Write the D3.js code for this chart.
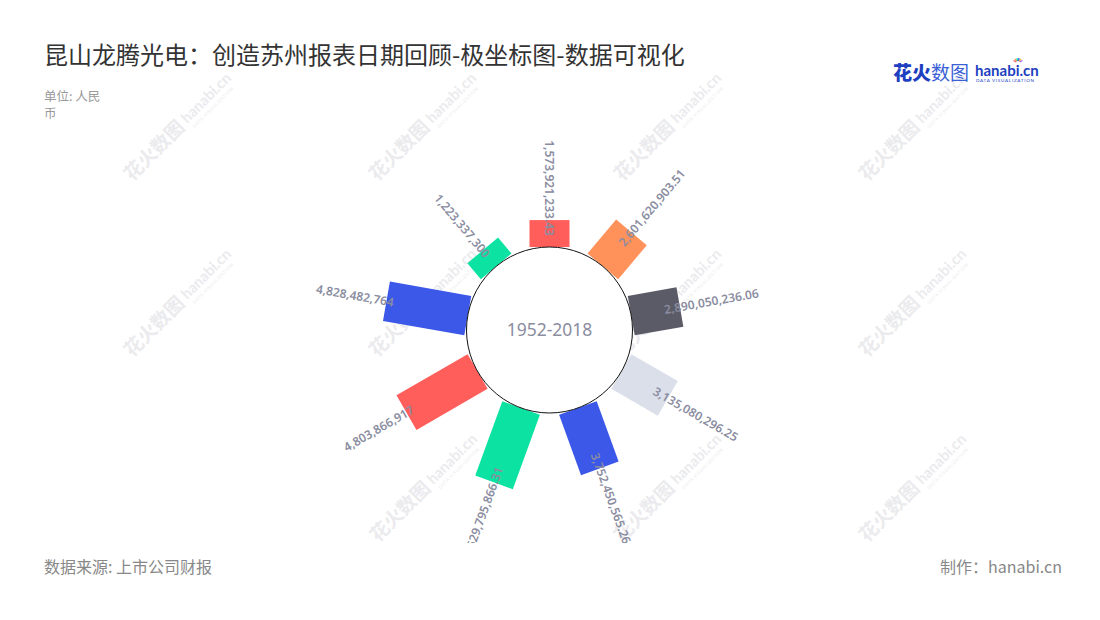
<!DOCTYPE html>
<html>
<head>
<meta charset="utf-8">
<script src="https://cdn.jsdelivr.net/npm/d3@7"></script>
<style>
  html,body{margin:0;padding:0;background:#fff;}
  svg{display:block;font-family:"Noto Sans CJK SC","Noto Sans",sans-serif;}
</style>
</head>
<body>
<svg id="chart" width="1100" height="620"></svg>
<script>
// ---- data ----
const categories = ["第1期","第2期","第3期","第4期","第5期","第6期","第7期","第8期","第9期"];
const values = [1573921233.43, 2601620903.51, 2890050236.06, 3135080296.25, 3752450565.26, 4629795866.31, 4803866917, 4828482764, 1223337300];
const labels = ["1,573,921,233.43","2,601,620,903.51","2,890,050,236.06","3,135,080,296.25","3,752,450,565.26","4,629,795,866.31","4,803,866,917","4,828,482,764","1,223,337,300"];
const colors = ["#ff5e5b","#ff915a","#5a5b66","#dbdfea","#3b58e9","#0ce3a2","#ff5e5b","#3b58e9","#0ce3a2"];
const radialTicks = [0, 5e9];
const title = "昆山龙腾光电：创造苏州报表日期回顾-极坐标图-数据可视化";
const unitLines = ["单位: 人民","币"];
const centerText = "1952-2018";
const sourceText = "数据来源: 上市公司财报";
const makerText = "制作：hanabi.cn";

const svg = d3.select("#chart");
const W = 1100, H = 620;
const cx = 549.5, cy = 330, innerR = 83;

// ---- watermarks ----
const wmPositions = [
  [132,182],[377,182],[622,182],[867,182],
  [132,358],[377,358],[622,358],[867,358],
  [378,543],[622,543],[867,543]
];
const wm = svg.append("g").attr("class","watermarks");
wmPositions.forEach(([x,y]) => {
  const g = wm.append("g").attr("transform",`translate(${x},${y}) rotate(-45)`).attr("fill","#ebebee");
  g.append("text").attr("x",0).attr("y",0).attr("font-size",19).attr("font-weight",700).text("花火数图");
  g.append("text").attr("x",80).attr("y",-2).attr("font-size",15).attr("font-weight",700)
    .attr("font-family","Lato, sans-serif").text("hanabi.cn");
  g.append("text").attr("x",82).attr("y",6).attr("font-size",4.5).attr("letter-spacing",0.6)
    .attr("font-family","Lato, sans-serif").text("DATA VISUALIZATION");
});

// ---- title & notes ----
svg.append("text").attr("x",44).attr("y",64).attr("font-size",24).attr("fill","#333").text(title);
svg.append("g").selectAll("text").data(unitLines).join("text")
  .attr("x",44).attr("y",(d,i)=>101+i*17).attr("font-size",12.5).attr("fill","#999").text(d=>d);
svg.append("text").attr("x",44).attr("y",573).attr("font-size",16).attr("fill","#888").text(sourceText);
svg.append("text").attr("x",1062).attr("y",573).attr("font-size",16).attr("fill","#888")
  .attr("text-anchor","end").text(makerText);

// ---- logo ----
const logo = svg.append("g").attr("transform","translate(893,80)");
logo.append("text").attr("x",0).attr("y",0).attr("font-size",19).attr("font-weight",900).attr("fill","#1e3fbf").text("花火");
logo.append("text").attr("x",38).attr("y",0).attr("font-size",19).attr("font-weight",400).attr("fill","#3a5fd6").text("数图");
logo.append("text").attr("x",82).attr("y",-4).attr("font-size",15).attr("font-weight",700)
  .attr("font-family","Lato, sans-serif").attr("fill","#1e3fbf").text("hanabi.cn");
logo.append("text").attr("x",83).attr("y",2).attr("font-size",4.6).attr("letter-spacing",0.7)
  .attr("font-family","Lato, sans-serif").attr("fill","#1e3fbf").text("DATA VISUALIZATION");
const burst = ["#ff5e5b","#ff915a","#0ce3a2","#3b58e9","#f5c342","#a35cf0"];
burst.forEach((c,i)=>{
  const a = (-150 + i*24) * Math.PI/180;
  logo.append("line").attr("x1",125+Math.cos(a)*2).attr("y1",-17+Math.sin(a)*2)
    .attr("x2",125+Math.cos(a)*5).attr("y2",-17+Math.sin(a)*5)
    .attr("stroke",c).attr("stroke-width",1.4);
});

// ---- scales ----
const angle = d3.scalePoint().domain(categories).range([0, 360*(categories.length-1)/categories.length]);
const radius = d3.scaleLinear().domain(radialTicks).range([innerR, 168.5]);

const data = categories.map((c,i)=>({cat:c, value:values[i], label:labels[i], color:colors[i]}));

const defs = svg.append("defs");
defs.append("clipPath").attr("id","plotClip").append("rect")
  .attr("x",0).attr("y",130).attr("width",W).attr("height",413);

const plot = svg.append("g").attr("transform",`translate(${cx},${cy})`);

// bars (rotated rectangles of constant width)
const barW = 40;
plot.append("g").selectAll("rect").data(data).join("rect")
  .attr("transform",d=>`rotate(${angle(d.cat)})`)
  .attr("x",-barW/2)
  .attr("y",d=>-radius(d.value))
  .attr("width",barW)
  .attr("height",d=>radius(d.value)-radius(0))
  .attr("fill",d=>d.color);

// center circle
plot.append("circle").attr("r",innerR).attr("fill","#fff").attr("stroke","#111").attr("stroke-width",1);
plot.append("text").attr("y",6).attr("text-anchor","middle").attr("font-size",17.5)
  .attr("font-family","'Noto Sans', sans-serif").attr("fill","#8b8da0").text(centerText);

// labels
const labG = svg.append("g").attr("clip-path","url(#plotClip)")
  .append("g").attr("transform",`translate(${cx},${cy})`);
labG.selectAll("text").data(data).join("text")
  .attr("transform",d=>{
    const a = angle(d.cat);
    const r = radius(d.value) + 32;
    const rad = a*Math.PI/180;
    const x = Math.sin(rad)*r, y = -Math.cos(rad)*r;
    const rot = (a>0 && a<180) ? a-90 : a+90;
    return `translate(${x},${y}) rotate(${rot})`;
  })
  .attr("text-anchor","middle")
  .attr("dy","0.35em")
  .attr("font-size",12)
  .attr("font-weight",600)
  .attr("font-family","'Noto Sans', sans-serif")
  .attr("fill","#8a8ca0")
  .text(d=>d.label);
</script>
</body>
</html>
